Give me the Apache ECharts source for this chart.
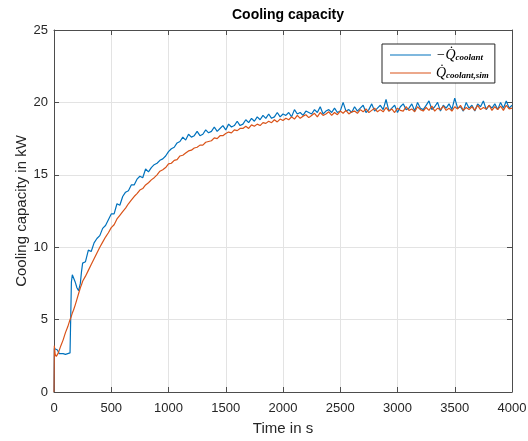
<!DOCTYPE html>
<html>
<head>
<meta charset="utf-8">
<script src="https://cdn.jsdelivr.net/npm/echarts@6/dist/echarts.min.js"></script>
<style>html,body{margin:0;padding:0;background:#fff}#c{width:528px;height:441px}</style>
</head>
<body>
<div id="c"></div>
<script>
// Time stamps in s
const timeS = [0, 3, 10, 20, 30, 38, 45, 60, 80, 100, 120, 140, 148, 152, 160, 170, 185, 200, 215, 230, 240,
  250, 275, 300, 325, 350, 375, 400, 425,
  450, 475, 500, 525, 550, 575, 600, 625,
  650, 675, 700, 725, 750, 775, 800, 825,
  850, 875, 900, 925, 950, 975, 1000, 1025,
  1050, 1075, 1100, 1125, 1150, 1175, 1200, 1225,
  1250, 1275, 1300, 1325, 1350, 1375, 1400, 1425,
  1450, 1475, 1500, 1525, 1550, 1575, 1600, 1625,
  1650, 1675, 1700, 1725, 1750, 1775, 1800, 1825,
  1850, 1875, 1900, 1925, 1950, 1975, 2000, 2025,
  2050, 2075, 2100, 2125, 2150, 2175, 2200, 2225,
  2250, 2275, 2300, 2325, 2350, 2375, 2400, 2425,
  2450, 2475, 2500, 2525, 2550, 2575, 2600, 2625,
  2650, 2675, 2700, 2725, 2750, 2775, 2800, 2825,
  2850, 2875, 2900, 2925, 2950, 2975, 3000, 3025,
  3050, 3075, 3100, 3125, 3150, 3175, 3200, 3225,
  3250, 3275, 3300, 3325, 3350, 3375, 3400, 3425,
  3450, 3475, 3500, 3525, 3550, 3575, 3600, 3625,
  3650, 3675, 3700, 3725, 3750, 3775, 3800, 3825,
  3850, 3875, 3900, 3925, 3950, 3975, 4000];

// Measured cooling capacity (-Qdot_coolant) in kW
const measuredKW = [0, 3.0, 2.9, 3.0, 2.9, 2.95, 2.65, 2.6, 2.65, 2.6, 2.65, 2.7, 2.7, 7.6, 8.1, 8.0, 7.6, 7.2, 7.0, 7.5, 8.3,
  8.9, 9.0, 9.8, 9.7, 10.3, 10.6, 10.8, 11.3,
  11.5, 11.9, 12.3, 12.3, 13.0, 12.9, 13.5, 13.8,
  13.9, 14.3, 14.3, 14.7, 14.9, 14.8, 15.4, 15.2,
  15.5, 15.7, 15.8, 16.0, 16.1, 16.3, 16.6, 16.8,
  16.9, 17.2, 17.3, 17.6, 17.4, 17.8, 17.6, 17.7,
  18.0, 17.7, 17.8, 18.1, 17.9, 18.0, 18.3, 18.0,
  18.2, 18.4, 18.1, 18.5, 18.3, 18.4, 18.7, 18.4,
  18.5, 18.8, 18.6, 18.9, 18.7, 19.0, 18.8, 19.1,
  18.9, 19.2, 18.9, 19.0, 19.3, 19.0, 19.2, 19.1,
  19.3, 19.0, 19.5, 19.2, 19.3, 19.1, 19.4, 19.3,
  19.2, 19.5, 19.3, 19.7, 19.2, 19.4, 19.5, 19.3,
  19.6, 19.3, 19.4, 20.0, 19.4, 19.5, 19.3, 19.7,
  19.4, 19.6, 19.8, 19.3, 19.5, 19.9, 19.4, 19.6,
  19.8, 19.5, 20.2, 19.4, 19.6, 19.8, 19.3, 19.7,
  19.9, 19.5, 19.6, 19.9, 19.4, 20.0, 19.6, 19.5,
  19.8, 20.1, 19.5, 19.7, 20.0, 19.4, 19.8, 19.6,
  19.9, 19.5, 20.3, 19.6, 19.7, 19.4, 20.0, 19.6,
  19.8, 19.4, 19.9, 19.7, 20.1, 19.5, 19.8, 19.6,
  19.9, 19.5, 20.0, 19.6, 20.1, 19.6, 19.8];

// Simulated cooling capacity (Qdot_coolant,sim) in kW
const simulatedKW = [0, 3.2, 2.6, 2.45, 2.55, 2.7, 2.8, 3.2, 3.6, 4.1, 4.5, 5.0, 5.15, 5.25, 5.45, 5.65, 6.0, 6.4, 6.8, 7.2, 7.4,
  7.65, 8.0, 8.4, 8.8, 9.2, 9.6, 10.0, 10.35,
  10.7, 11.0, 11.35, 11.55, 11.95, 12.2, 12.45, 12.7,
  13.0, 13.25, 13.5, 13.7, 13.95, 14.05, 14.3, 14.45,
  14.65, 14.8, 15.0, 15.25, 15.35, 15.5, 15.75, 15.8,
  16.0, 16.05, 16.3, 16.35, 16.5, 16.65, 16.7, 16.85,
  16.9, 17.05, 17.05, 17.25, 17.3, 17.35, 17.55, 17.5,
  17.7, 17.7, 17.85, 17.95, 17.9, 18.1, 18.05, 18.2,
  18.2, 18.35, 18.2, 18.45, 18.35, 18.5, 18.4, 18.6,
  18.55, 18.7, 18.6, 18.8, 18.65, 18.85, 18.75, 18.9,
  18.8, 19.0, 18.85, 19.1, 18.9, 19.05, 19.15, 18.95,
  19.1, 19.25, 19.0, 19.3, 19.1, 19.2, 19.35, 19.1,
  19.3, 19.15, 19.4, 19.25, 19.45, 19.2, 19.35, 19.4,
  19.25, 19.5, 19.35, 19.55, 19.3, 19.45, 19.6, 19.35,
  19.5, 19.35, 19.65, 19.4, 19.55, 19.3, 19.6, 19.45,
  19.4, 19.7, 19.45, 19.55, 19.35, 19.7, 19.5, 19.4,
  19.65, 19.45, 19.75, 19.4, 19.6, 19.5, 19.75, 19.45,
  19.6, 19.4, 19.7, 19.55, 19.8, 19.45, 19.65, 19.5,
  19.7, 19.45, 19.8, 19.5, 19.65, 19.55, 19.8, 19.45,
  19.7, 19.5, 19.75, 19.45, 19.8, 19.55, 19.6];

const xTicks = [0, 500, 1000, 1500, 2000, 2500, 3000, 3500, 4000];
const yTicks = [0, 5, 10, 15, 20, 25];

const pair = (t, v) => t.map((x, i) => [x, v[i]]);
const axisCol = '#4d4d4d';
const txtCol = '#262626';
const font = "'Liberation Sans', Arial, sans-serif";
const serif = "'Liberation Serif', 'DejaVu Serif', serif";

const chart = echarts.init(document.getElementById('c'), null, {renderer: 'canvas'});
const baseX = {type: 'value', min: xTicks[0], max: xTicks[xTicks.length - 1], interval: xTicks[1] - xTicks[0]};
const baseY = {type: 'value', min: yTicks[0], max: yTicks[yTicks.length - 1], interval: yTicks[1] - yTicks[0]};
chart.setOption({
  animation: false,
  backgroundColor: '#fff',
  title: {
    text: 'Cooling capacity', left: 283, top: 3, textAlign: 'center',
    textStyle: {fontFamily: font, fontSize: 14, fontWeight: 'bold', color: '#000'}
  },
  grid: {left: 54, right: 16, top: 30, bottom: 49, containLabel: false, outerBoundsMode: 'none'},
  legend: {
    left: 382, top: 44, orient: 'vertical',
    padding: [4, 6, 3, 8], itemGap: 4, itemWidth: 41, itemHeight: 1.2,
    icon: 'rect',
    borderColor: '#262626', borderWidth: 1, backgroundColor: '#fff',
    data: ['measured', 'simulated'],
    formatter: n => n === 'measured' ? '{m|−Q̇}{s|coolant}' : '{m|Q̇}{s|coolant,sim}',
    textStyle: {
      rich: {
        m: {fontFamily: serif, fontStyle: 'italic', fontSize: 14, color: '#000', lineHeight: 14},
        s: {fontFamily: serif, fontStyle: 'italic', fontWeight: 'bold', fontSize: 9, color: '#000', lineHeight: 14, verticalAlign: 'bottom', padding: [4, 0, 0, 0]}
      }
    }
  },
  xAxis: [
    Object.assign({}, baseX, {
      position: 'bottom',
      name: 'Time in s', nameLocation: 'middle', nameGap: 29, nameMoveOverlap: false,
      nameTextStyle: {fontFamily: font, fontSize: 15, color: txtCol},
      axisLine: {onZero: false, lineStyle: {color: axisCol, width: 1}},
      axisTick: {inside: true, length: 5, lineStyle: {color: axisCol}},
      axisLabel: {fontFamily: font, fontSize: 13, color: txtCol, margin: 10, formatter: v => String(v)},
      splitLine: {show: true, lineStyle: {color: '#e3e3e3', width: 1}}
    }),
    Object.assign({}, baseX, {
      position: 'top',
      axisLine: {onZero: false, lineStyle: {color: axisCol, width: 1}},
      axisTick: {inside: true, length: 5, lineStyle: {color: axisCol}},
      axisLabel: {show: false}, splitLine: {show: false}
    })
  ],
  yAxis: [
    Object.assign({}, baseY, {
      position: 'left',
      name: 'Cooling capacity in kW', nameLocation: 'middle', nameGap: 25, nameMoveOverlap: false,
      nameTextStyle: {fontFamily: font, fontSize: 15, color: txtCol},
      axisLine: {show: true, onZero: false, lineStyle: {color: axisCol, width: 1}},
      axisTick: {show: true, inside: true, length: 5, lineStyle: {color: axisCol}},
      axisLabel: {fontFamily: font, fontSize: 13, color: txtCol, margin: 6, formatter: v => String(v)},
      splitLine: {show: true, lineStyle: {color: '#e3e3e3', width: 1}}
    }),
    Object.assign({}, baseY, {
      position: 'right',
      axisLine: {show: true, onZero: false, lineStyle: {color: axisCol, width: 1}},
      axisTick: {show: true, inside: true, length: 5, lineStyle: {color: axisCol}},
      axisLabel: {show: false}, splitLine: {show: false}
    })
  ],
  series: [
    {name: 'measured', type: 'line', data: pair(timeS, measuredKW), xAxisIndex: 0, yAxisIndex: 0,
     symbol: 'none', lineStyle: {color: '#0072BD', width: 1.2}, itemStyle: {color: '#0072BD'}},
    {name: 'simulated', type: 'line', data: pair(timeS, simulatedKW), xAxisIndex: 0, yAxisIndex: 0,
     symbol: 'none', lineStyle: {color: '#D95319', width: 1.2}, itemStyle: {color: '#D95319'}}
  ]
});
</script>
</body>
</html>
